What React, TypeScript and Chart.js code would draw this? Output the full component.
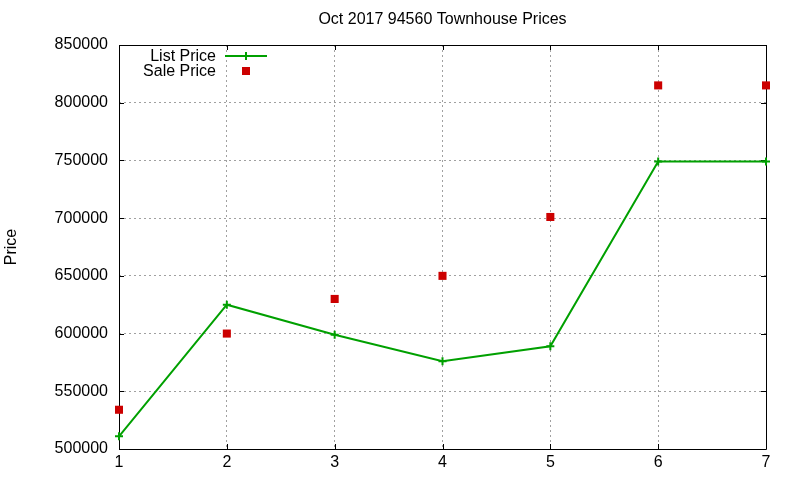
import React, { useEffect, useRef } from "react";
import { Chart, registerables } from "chart.js";

Chart.register(...registerables);

const TITLE = "Oct 2017 94560 Townhouse Prices";
const Y_TITLE = "Price";
const CATEGORIES = ["1", "2", "3", "4", "5", "6", "7"];
const LIST_PRICE = [511000, 625000, 599000, 576000, 589000, 749000, 749000];
const SALE_PRICE = [534000, 600000, 630000, 650000, 701000, 815000, 815000];
const Y_MIN = 500000;
const Y_MAX = 850000;
const Y_STEP = 50000;

const GREEN = "#00a000";
const RED = "#cc0000";
const FONT = "'Liberation Sans', Arial, Helvetica, sans-serif";

const framePlugin = {
  id: "gnuFrame",
  beforeDatasetsDraw(chart: any) {
    const { ctx, chartArea } = chart;
    const { left, right, top, bottom } = chartArea;
    const xs = chart.scales.x;
    const ys = chart.scales.y;
    const tl = 5;
    ctx.save();
    ctx.strokeStyle = "#000";
    ctx.lineWidth = 1;
    ctx.beginPath();
    ctx.rect(Math.round(left) + 0.5, Math.round(top) + 0.5, Math.round(right - left), Math.round(bottom - top));
    ctx.stroke();
    ctx.beginPath();
    ys.ticks.forEach((t: any, i: number) => {
      const y = Math.round(ys.getPixelForTick(i)) + 0.5;
      ctx.moveTo(left, y);
      ctx.lineTo(left + tl, y);
      ctx.moveTo(right, y);
      ctx.lineTo(right - tl, y);
    });
    xs.ticks.forEach((t: any, i: number) => {
      const x = Math.round(xs.getPixelForTick(i)) + 0.5;
      ctx.moveTo(x, bottom);
      ctx.lineTo(x, bottom - tl);
      ctx.moveTo(x, top);
      ctx.lineTo(x, top + tl);
    });
    ctx.stroke();
    ctx.restore();
  },
  afterDraw(chart: any) {
    const { ctx, chartArea } = chart;
    ctx.save();
    ctx.fillStyle = "#000";
    ctx.font = `16px ${FONT}`;
    ctx.textAlign = "center";
    ctx.textBaseline = "middle";
    ctx.fillText(TITLE, (chartArea.left + chartArea.right) / 2, 20);

    // legend (gnuplot style: right-aligned text, sample to the right)
    const ds = chart.data.datasets;
    const textRight = 216;
    const sampleL = 225;
    const sampleR = 267;
    const sampleC = 246;
    const rows = [56, 71];
    ctx.textAlign = "right";
    ds.forEach((d: any, i: number) => {
      const y = rows[i];
      ctx.fillStyle = "#000";
      ctx.fillText(d.label, textRight, y + 1);
      if (d.showLine !== false) {
        ctx.strokeStyle = d.borderColor;
        ctx.lineWidth = 2;
        ctx.beginPath();
        ctx.moveTo(sampleL, y);
        ctx.lineTo(sampleR, y);
        ctx.moveTo(sampleC, y - 4);
        ctx.lineTo(sampleC, y + 4);
        ctx.stroke();
      } else {
        ctx.fillStyle = d.backgroundColor;
        ctx.fillRect(sampleC - 4, y - 4, 8, 8);
      }
    });
    ctx.restore();
  },
};

export default function App() {
  const ref = useRef<HTMLCanvasElement>(null);
  useEffect(() => {
    if (!ref.current) return;
    Chart.defaults.font.family = FONT;
    Chart.defaults.font.size = 16;
    Chart.defaults.color = "#000";
    const chart = new Chart(ref.current, {
      type: "line",
      data: {
        labels: CATEGORIES,
        datasets: [
          {
            label: "List Price",
            data: LIST_PRICE,
            borderColor: GREEN,
            backgroundColor: GREEN,
            borderWidth: 2,
            pointStyle: "cross",
            pointRadius: 4,
            pointBorderWidth: 2,
            pointBorderColor: GREEN,
            tension: 0,
            clip: false,
          } as any,
          {
            label: "Sale Price",
            data: SALE_PRICE,
            showLine: false,
            borderColor: RED,
            backgroundColor: RED,
            pointStyle: "rect",
            pointRadius: 5.7,
            pointBorderWidth: 0,
            clip: false,
          } as any,
        ],
      },
      options: {
        responsive: false,
        animation: false,
        devicePixelRatio: 1,
        layout: { padding: { top: 45, right: 34, left: 0, bottom: 0 } },
        plugins: {
          legend: { display: false },
          title: { display: false },
          tooltip: { enabled: false },
        },
        scales: {
          x: {
            type: "category",
            offset: false,
            grid: { display: true, drawTicks: false, color: "#a0a0a0", lineWidth: 1 },
            border: { display: false, dash: [2, 3] },
            ticks: { padding: 4, font: { size: 16 }, color: "#000", maxRotation: 0 },
            afterFit(scale: any) {
              scale.height = 31;
            },
          },
          y: {
            type: "linear",
            min: Y_MIN,
            max: Y_MAX,
            grid: { display: true, drawTicks: false, color: "#a0a0a0", lineWidth: 1 },
            border: { display: false, dash: [2, 3] },
            ticks: {
              stepSize: Y_STEP,
              padding: 11,
              font: { size: 16 },
              color: "#000",
              callback: (v: any) => String(v),
            },
            title: {
              display: true,
              text: Y_TITLE,
              font: { size: 16 },
              color: "#000",
              padding: { top: 2, bottom: 0 },
            },
            afterFit(scale: any) {
              scale.width = 119;
            },
          },
        },
      },
      plugins: [framePlugin],
    });
    return () => chart.destroy();
  }, []);
  return (
    <div style={{ position: "absolute", left: 0, top: 0, width: 800, height: 480, background: "#fff" }}>
      <canvas ref={ref} width={800} height={480} />
    </div>
  );
}
